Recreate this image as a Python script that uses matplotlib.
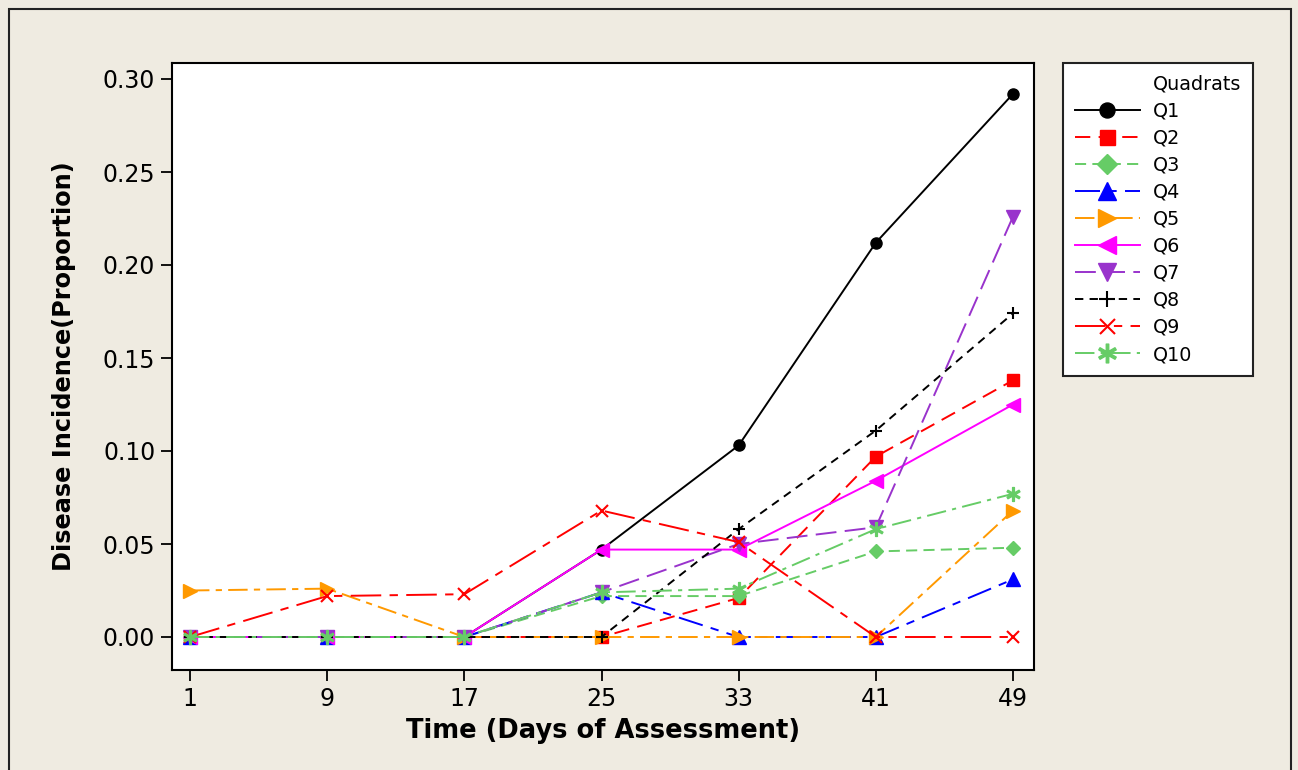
import matplotlib
matplotlib.use("Agg")
import matplotlib.pyplot as plt
from matplotlib.lines import Line2D
from matplotlib.patches import Rectangle

plt.rcParams['font.family'] = ['DejaVu Sans']
plt.rcParams['lines.scale_dashes'] = False

days = [1, 9, 17, 25, 33, 41, 49]
series_names = ["Q1", "Q2", "Q3", "Q4", "Q5", "Q6", "Q7", "Q8", "Q9", "Q10"]
q1 = [0, 0, 0, 0.047, 0.103, 0.212, 0.292]
q2 = [0, 0, 0, 0, 0.021, 0.097, 0.138]
q3 = [0, 0, 0, 0.022, 0.022, 0.046, 0.048]
q4 = [0, 0, 0, 0.024, 0, 0, 0.031]
q5 = [0.025, 0.026, 0, 0, 0, 0, 0.068]
q6 = [0, 0, 0, 0.047, 0.047, 0.084, 0.125]
q7 = [0, 0, 0, 0.024, 0.050, 0.059, 0.226]
q8 = [0, 0, 0, 0, 0.058, 0.111, 0.174]
q9 = [0, 0.022, 0.023, 0.068, 0.051, 0, 0]
q10 = [0, 0, 0, 0.024, 0.026, 0.058, 0.077]
values = [q1, q2, q3, q4, q5, q6, q7, q8, q9, q10]

colors = ["#000000", "#FF0000", "#66CC66", "#0000FF", "#FF9900",
          "#FF00FF", "#9933CC", "#000000", "#FF0000", "#66CC66"]
markers = ["o", "s", "D", "^", ">", "<", "v", "+", "x", "$\u2217$"]
msizes = [8, 8, 7.5, 10, 10, 10, 10, 9, 8, 10]
styles = ["-", (0, (11, 6)), (0, (8, 4.5)), (0, (18, 6, 6, 6)),
          (0, (14, 4.5, 4.5, 4.5)), "-", (0, (15, 6)), (0, (6, 4.5)),
          (0, (22, 6, 6, 6)), (0, (14, 4.5, 3, 4.5))]

fig = plt.figure(figsize=(12.98, 7.70), dpi=100)
fig.patch.set_facecolor("#EFEBE1")
fig.patches.append(Rectangle((9/1298, -0.02), (1291-9)/1298, 1 - 9/770 + 0.02,
                             transform=fig.transFigure, fill=False,
                             edgecolor="#222222", linewidth=1.5))

ax = fig.add_axes([172/1298, 100/770, (1034-172)/1298, (670-63)/770])
ax.set_facecolor("white")

handles = [Line2D([], [], linestyle="none", marker="none", label="Quadrats")]
for name, v, c, m, ms, ls in zip(series_names, values, colors, markers, msizes, styles):
    ln, = ax.plot(days, v, color=c, marker=m, markersize=ms, linestyle=ls,
                  linewidth=1.4, markeredgecolor=c, markerfacecolor=c,
                  markeredgewidth=1.5 if m in ("+", "x") else 1.0, label=name)
    handles.append(ln)

ax.set_xlim(1 - 18/17.146, 49 + 21/17.146)
ax.set_ylim(-33/1860, 0.3 + 16/1860)
ax.set_xticks(days)
ax.set_xticklabels([str(d) for d in days])
ax.set_yticks([0, 0.05, 0.10, 0.15, 0.20, 0.25, 0.30])
ax.set_yticklabels(["0.00", "0.05", "0.10", "0.15", "0.20", "0.25", "0.30"])
ax.tick_params(axis="both", direction="out", length=8, width=1.3, labelsize=17,
               pad=4, top=False, right=False)
for s in ax.spines.values():
    s.set_linewidth(1.5)

ax.set_xlabel("Time (Days of Assessment)", fontsize=18.5, fontweight="bold", labelpad=5)
ax.set_ylabel("Disease Incidence(Proportion)", fontsize=17.3, fontweight="bold", labelpad=19)

leg = fig.legend(handles=handles, loc="upper left",
                 bbox_to_anchor=(1063/1298, 1 - 63/770), bbox_transform=fig.transFigure,
                 fontsize=13.8, frameon=True, fancybox=False, edgecolor="#222222",
                 facecolor="white", framealpha=1.0,
                 handlelength=3.4, handletextpad=0.7, labelspacing=0.42,
                 borderpad=0.6, markerscale=1.35, borderaxespad=0)
leg.get_frame().set_linewidth(1.5)

fig.savefig("out.png", dpi=100, facecolor=fig.get_facecolor())
